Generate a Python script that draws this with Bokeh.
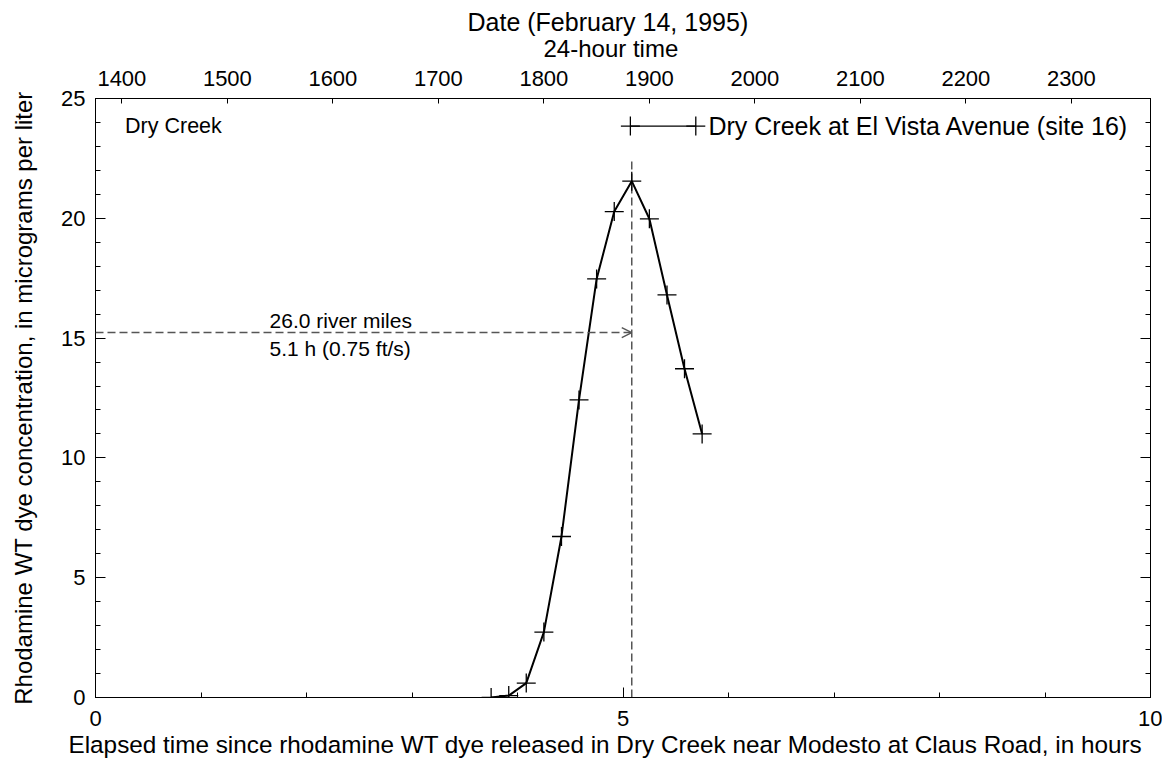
from bokeh.plotting import figure
from bokeh.models import (Range1d, LinearAxis, FixedTicker, Arrow, OpenHead,
                          ColumnDataSource, Title)
from bokeh.core.properties import value
from bokeh.embed import file_html
from bokeh.resources import INLINE

# ---- data ----
elapsed_h = [3.75, 3.917, 4.083, 4.25, 4.417, 4.583, 4.75, 4.917, 5.083,
             5.25, 5.417, 5.583, 5.75]
conc_ugl = [0.0, 0.08, 0.6, 2.73, 6.72, 12.42, 17.47, 20.28, 21.55,
            19.98, 16.8, 13.72, 11.0]
clock_hours = [14, 15, 16, 17, 18, 19, 20, 21, 22, 23]
clock_labels = ["1400", "1500", "1600", "1700", "1800", "1900", "2000",
                "2100", "2200", "2300"]
release_clock_h = 13.75
x_ticks = [0, 5, 10]
y_ticks = [0, 5, 10, 15, 20, 25]
travel_time_h = 5.083
travel_conc = 15.23
peak_line_top = 22.5
series_name = "Dry Creek at El Vista Avenue (site 16)"
reach_name = "Dry Creek"
note_lines = ["26.0 river miles", "5.1 h (0.75 ft/s)"]
x_label = "Elapsed time since rhodamine WT dye released in Dry Creek near Modesto at Claus Road, in hours"
y_label = "Rhodamine WT dye concentration, in micrograms per liter"
top_label = "24-hour time"
top_title = "Date (February 14, 1995)"

FONT = "Liberation Sans"

p = figure(width=1162, height=758, x_range=Range1d(0, 10), y_range=Range1d(0, 25),
           output_backend="svg", toolbar_location=None,
           x_axis_location=None, y_axis_location=None,
           min_border_left=95, min_border_right=12, min_border_top=98,
           min_border_bottom=61)
p.grid.visible = False
p.outline_line_color = "black"
p.outline_line_width = 1
p.background_fill_color = "white"
p.border_fill_color = "white"

p.extra_x_ranges = {"clock": Range1d(release_clock_h, release_clock_h + 10)}


def style(ax, label_size="22px"):
    ax.axis_line_color = "black"
    ax.major_tick_line_color = "black"
    ax.minor_tick_line_color = "black"
    ax.major_tick_out = 0
    ax.minor_tick_out = 0
    ax.major_label_text_font = FONT
    ax.major_label_text_font_size = label_size
    ax.major_label_text_color = "black"
    ax.axis_label_text_font = FONT
    ax.axis_label_text_font_size = "24px"
    ax.axis_label_text_font_style = "normal"
    ax.axis_label_text_color = "black"


def title(text, offset, standoff, size="24px", valign="bottom"):
    return Title(text=text, align="left", offset=offset, standoff=standoff,
                 vertical_align=valign,
                 text_font=FONT, text_font_size=size, text_font_style="normal",
                 text_color="black")


xb = LinearAxis(ticker=FixedTicker(ticks=x_ticks, minor_ticks=list(range(0, 11))))
style(xb)
xb.major_tick_in = 10
xb.minor_tick_in = 5
xb.major_label_standoff = 13
p.add_layout(xb, "below")
p.add_layout(title(x_label, -27, 0, "24.3px"), "below")

yl = LinearAxis(ticker=FixedTicker(ticks=y_ticks, minor_ticks=list(range(0, 26))),
                axis_label=y_label)
style(yl)
yl.major_tick_in = 10
yl.minor_tick_in = 5
yl.major_label_standoff = 10
yl.axis_label_standoff = 21
p.add_layout(yl, "left")

yr = LinearAxis(ticker=FixedTicker(ticks=y_ticks, minor_ticks=list(range(0, 26))))
style(yr)
yr.major_tick_in = 10
yr.minor_tick_in = 5
yr.major_label_text_font_size = "0px"
yr.major_label_standoff = 0
p.add_layout(yr, "right")

xt = LinearAxis(x_range_name="clock", ticker=FixedTicker(ticks=clock_hours),
                major_label_overrides={h: s for h, s in zip(clock_hours, clock_labels)})
style(xt)
xt.major_tick_in = 5
xt.minor_tick_in = 0
xt.major_label_standoff = 13
p.add_layout(xt, "above")
p.add_layout(title(top_label, 448, 12), "above")

p.title.text = top_title
p.title.align = "left"
p.title.offset = 372
p.title.text_font = FONT
p.title.text_font_size = "25px"
p.title.text_font_style = "normal"
p.title.text_color = "black"
p.title.standoff = -18

# dashed guides
p.segment(x0=[travel_time_h], y0=[0], x1=[travel_time_h], y1=[peak_line_top],
          line_color="#555555", line_width=1.5, line_dash="8 4")
p.add_layout(Arrow(end=OpenHead(size=10, line_color="#555555", line_width=1.3),
                   x_start=0, y_start=travel_conc, x_end=travel_time_h, y_end=travel_conc,
                   line_color="#555555", line_width=1.5, line_dash="8 4"))

p.text(x=[1.65, 1.65], y=[15.75, 14.58], text=note_lines, text_font=value(FONT),
       text_font_size="21px", text_baseline="middle", text_align="left", text_color="black")
p.text(x=[0.28], y=[23.85], text=[reach_name], text_font=value(FONT),
       text_font_size="21.5px", text_baseline="middle", text_align="left", text_color="black")

# data series
src = ColumnDataSource(dict(x=elapsed_h, y=conc_ugl))
p.line("x", "y", source=src, line_color="black", line_width=2)
p.scatter("x", "y", source=src, marker="cross", size=19, line_color="black", line_width=1.3)

# legend sample
p.line(x=[5.07, 5.69], y=[23.85, 23.85], line_color="black", line_width=1.3)
p.scatter(x=[5.07, 5.69], y=[23.85, 23.85], marker="cross", size=19, line_color="black", line_width=1.3)
p.text(x=[5.81], y=[23.85], text=[series_name], text_font=value(FONT),
       text_font_size="25px", text_baseline="middle", text_align="left", text_color="black")

open("out.html", "w").write(file_html(p, INLINE))
